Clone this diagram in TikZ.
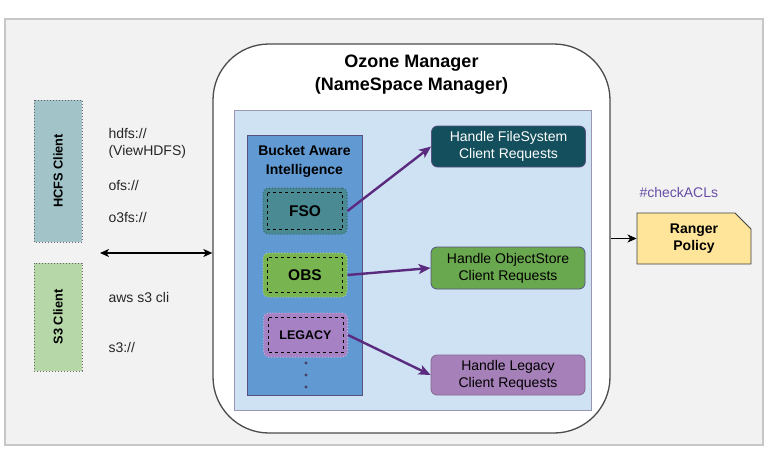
\documentclass[tikz,border=0pt]{standalone}
\usepackage{fontspec}
\setmainfont{Liberation Sans}
\usetikzlibrary{arrows.meta,shapes.misc}
\definecolor{bggray}{HTML}{F2F2F2}
\definecolor{areablue}{HTML}{CFE2F3}
\definecolor{bucketblue}{HTML}{6199D3}
\definecolor{edgepurple}{HTML}{56517E}
\definecolor{fsoteal}{HTML}{4A8A92}
\definecolor{obsgreen}{HTML}{78B450}
\definecolor{legpurple}{HTML}{A681C4}
\definecolor{hfsteal}{HTML}{134F5C}
\definecolor{hosgreen}{HTML}{6AA84F}
\definecolor{hlgpurple}{HTML}{A680B8}
\definecolor{hcfsblue}{HTML}{A2C4C9}
\definecolor{sthreegreen}{HTML}{B6D7A8}
\definecolor{rangeryellow}{HTML}{FFE599}
\definecolor{arrowpurple}{HTML}{5A2A7E}
\definecolor{aclpurple}{HTML}{674EA7}
\tikzset{
  txt/.style={font=\fontsize{14}{17}\selectfont},
  ombox/.style={draw=black!70,fill=white,line width=1.3pt,rounded corners=56pt,inner sep=0pt},
  kindbox/.style={draw,dotted,line width=1pt,rounded corners=5pt,inner sep=0pt,
    minimum width=84,minimum height=44,font=\fontsize{15.5}{18}\selectfont\bfseries},
  handlebox/.style={draw=edgepurple,line width=.8pt,rounded corners=6pt,inner sep=0pt,
    minimum width=154,minimum height=41,align=center,txt},
  clientbox/.style={draw=black!60,dotted,line width=1pt,rotate=90,inner sep=0pt,
    minimum height=48,font=\fontsize{12.8}{15}\selectfont\bfseries},
  reqarrow/.style={arrowpurple,line width=2.4pt,-{Stealth[length=12pt,width=10pt,inset=3pt]}}
}
\begin{document}
\begin{tikzpicture}[x=1pt,y=-1pt]
\useasboundingbox (0,0) rectangle (783,458);
\draw[draw=black!22,fill=bggray,line width=1.2pt] (5,19) rectangle (763,445);

\node[ombox,minimum width=397,minimum height=389] (om) at (411.5,238.5) {};
\node[font=\fontsize{18}{23}\selectfont\bfseries,align=center] (omtitle) at (411.5,74.5) {Ozone Manager\\(NameSpace Manager)};
\node[draw=edgepurple!60,fill=areablue,line width=.8pt,inner sep=0pt,minimum width=357,minimum height=300] (area) at (412.5,260) {};
\node[draw=edgepurple,fill=bucketblue,line width=.8pt,inner sep=0pt,minimum width=115,minimum height=260] (bucket) at (304.5,265) {};
\node[font=\fontsize{14}{19}\selectfont\bfseries,align=center] (bucketttl) at (304.5,161.5) {Bucket Aware\\Intelligence};

\node[kindbox,draw=fsoteal!70!black,fill=fsoteal,minimum height=46] (fso) at (305,211) {FSO};
\node[kindbox,draw=obsgreen!60!white,fill=obsgreen] (obs) at (305,275) {OBS};
\node[kindbox,draw=legpurple!60!white,fill=legpurple,font=\fontsize{12.5}{15}\selectfont\bfseries] (leg) at (305.5,335) {LEGACY};
\foreach \n in {fso,obs,leg}
  \draw[dashed,line width=.8pt] ([shift={(5,5)}]\n.north west) rectangle ([shift={(-5,-5)}]\n.south east);
\foreach \y in {363,375,387}
  \fill[edgepurple!80!black] (306,\y) circle (1.7);

\node[handlebox,fill=hfsteal,text=white] (hfs) at (508.5,146.5) {Handle FileSystem\\Client Requests};
\node[handlebox,fill=hosgreen,minimum height=42] (hos) at (508,268) {Handle ObjectStore\\Client Requests};
\node[handlebox,fill=hlgpurple,minimum height=40,draw=hlgpurple!80!black] (hlg) at (508,375) {Handle Legacy\\Client Requests};
\draw[reqarrow] (fso.east) -- (hfs.west);
\draw[reqarrow] (obs.east) -- (hos.west);
\draw[reqarrow] (leg.east) -- (hlg.west);

\node[clientbox,fill=hcfsblue,minimum width=142] (hcfs) at (58,171) {HCFS Client};
\node[clientbox,fill=sthreegreen,minimum width=108] (sthree) at (58,317) {S3 Client};
\node[txt,anchor=base west,text=black!85] (hdfs) at (105,138) {hdfs://};
\node[txt,anchor=base west,text=black!85] (vhdfs) at (105,155.5) {(ViewHDFS)};
\node[txt,anchor=base west,text=black!85] (ofs) at (105,190.5) {ofs://};
\node[txt,anchor=base west,text=black!85] (othreefs) at (105,222) {o3fs://};
\node[txt,anchor=base west,text=black!85] (awscli) at (105,302) {aws s3 cli};
\node[txt,anchor=base west,text=black!85] (sthreeurl) at (105,352.5) {s3://};
\coordinate (cl) at (100,253);
\draw[line width=1.4pt,{Stealth[length=9pt,width=8pt,inset=2.5pt]}-{Stealth[length=9pt,width=8pt,inset=2.5pt]}] (cl) -- (cl -| om.west);

\node[draw=black!75,fill=rangeryellow,line width=.9pt,chamfered rectangle,chamfered rectangle corners=north east,
  chamfered rectangle xsep=8pt,chamfered rectangle ysep=8pt,inner sep=0pt,minimum width=114,minimum height=51,
  font=\fontsize{14}{17}\selectfont\bfseries,align=center] (ranger) at (694,238.5) {Ranger\\Policy};
\node[txt,anchor=base west,text=aclpurple] (acl) at (636,197) {\#checkACLs};
\draw[line width=1.4pt,-{Stealth[length=9pt,width=8pt,inset=2.5pt]}] (om.east) -- (ranger.west);
\end{tikzpicture}
\end{document}
